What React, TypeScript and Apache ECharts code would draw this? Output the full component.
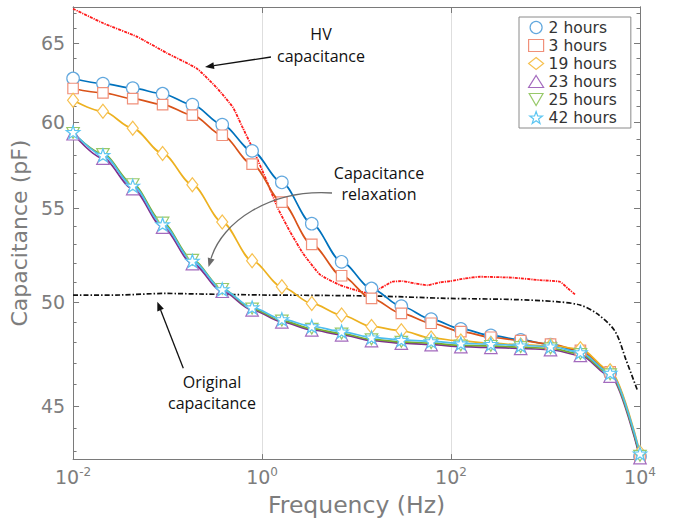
import React, { useEffect, useRef } from 'react';
import * as echarts from 'echarts';

// ---------- data ----------
const freqHz = [0.01, 0.0207, 0.0428, 0.0886, 0.183, 0.379, 0.785, 1.62, 3.36, 6.95, 14.4, 29.8, 61.6, 127, 264, 546, 1130, 2340, 4830, 10000];

const cap2h = [62.71, 62.39, 62.10, 61.75, 61.07, 59.85, 58.28, 56.45, 54.14, 52.09, 50.70, 49.80, 49.15, 48.67, 48.35, 48.13, 47.90, 47.58, 46.55, 42.77];
const cap3h = [62.08, 61.81, 61.45, 61.08, 60.43, 59.21, 57.50, 55.33, 53.02, 51.36, 50.20, 49.44, 48.95, 48.54, 48.26, 48.10, 47.93, 47.62, 46.60, 42.80];
const cap19h = [61.35, 60.67, 59.63, 58.13, 56.32, 54.23, 52.15, 50.79, 49.94, 49.36, 48.79, 48.58, 48.22, 48.08, 47.97, 47.89, 47.85, 47.70, 46.65, 42.94];
const cap23h = [59.30, 57.85, 56.10, 53.95, 52.00, 50.56, 49.62, 49.02, 48.62, 48.38, 48.10, 47.97, 47.90, 47.80, 47.77, 47.72, 47.66, 47.38, 46.40, 42.72];
const cap25h = [59.35, 58.10, 56.35, 54.20, 52.20, 50.68, 49.68, 49.08, 48.68, 48.44, 48.16, 48.04, 47.97, 47.86, 47.84, 47.78, 47.72, 47.45, 46.48, 42.80];
const cap42h = [59.40, 58.03, 56.26, 54.10, 52.14, 50.66, 49.74, 49.15, 48.80, 48.54, 48.25, 48.13, 48.06, 47.96, 47.93, 47.86, 47.81, 47.53, 46.55, 42.90];

const hvFreqHz = [0.01, 0.0209, 0.0472, 0.0982, 0.205, 0.332, 0.493, 0.614, 0.803, 1.10, 1.48, 1.98, 2.72, 4.11, 6.68, 10.9, 13.9, 17.7, 23.8, 31.0, 41.6, 55.7, 76.6, 97.5, 141, 203, 453, 875, 1420, 1730, 2050];
const hvCap = [67.3, 66.32, 65.43, 64.35, 63.34, 62.12, 60.90, 59.75, 58.38, 56.64, 54.96, 53.70, 52.53, 51.42, 50.88, 50.55, 50.45, 50.70, 51.05, 51.08, 50.96, 50.87, 51.02, 51.08, 51.22, 51.31, 51.26, 51.13, 51.05, 50.70, 50.40];

const origFreqHz = [0.01, 0.0314, 0.0942, 0.221, 1, 4.11, 17.7, 89.9, 453, 1310, 2320, 3480, 5430, 7110, 9420];
const origCap = [50.36, 50.37, 50.45, 50.42, 50.37, 50.35, 50.31, 50.20, 50.14, 50.03, 49.86, 49.44, 48.56, 47.17, 45.72];

const seriesNames = ['2 hours', '3 hours', '19 hours', '23 hours', '25 hours', '42 hours'];
const yMajorTicks = [45, 50, 55, 60, 65];
const yMinorTicks = [43, 44, 45, 46, 47, 48, 49, 50, 51, 52, 53, 54, 55, 56, 57, 58, 59, 60, 61, 62, 63, 64, 65, 66, 67];
const yRangePf = [42.66, 67.42];
const xRangeExp = [-2, 4];

// ---------- styles ----------
const FONT = 'DejaVu Sans';
const ANNOT_FONT = 'Open Sans';
const AX = '#7a7a7a';
const LBL = '#7d7d7d';
const lineColors = ['#0072BD', '#D95319', '#EDB120', '#7E2F8E', '#77AC30', '#4DBEEE'];
const edgeColors = ['#62A8DE', '#F0907A', '#F7C150', '#A46BBE', '#98C96A', '#5CC6F2'];
const STAR = 'path://M50,0 L61.76,33.82 L97.55,34.55 L69.02,56.18 L79.39,90.45 L50,70 L20.61,90.45 L30.98,56.18 L2.45,34.55 L38.24,33.82 Z';
const TRI_DOWN = 'path://M0,0 L100,0 L50,86.6 Z';
const symbols = ['circle', 'rect', 'diamond', 'triangle', TRI_DOWN, STAR];
const symbolSizes: any[] = [12.5, 10.5, [11, 14], 12.5, 12.5, 13.5];

const lg = (v: number) => Math.log10(v);

export default function App() {
  const ref = useRef<HTMLDivElement>(null);
  useEffect(() => {
    if (!ref.current) return;
    const chart = echarts.init(ref.current, undefined, { renderer: 'svg' });
    const capSets = [cap2h, cap3h, cap19h, cap23h, cap25h, cap42h];

    const dataSeries = capSets.map((vals, k) => ({
      name: seriesNames[k],
      type: 'line',
      xAxisIndex: 0,
      yAxisIndex: 0,
      data: freqHz.map((f, i) => [lg(f), lg(vals[i])]),
      symbol: symbols[k],
      symbolSize: symbolSizes[k],
      symbolKeepAspect: true,
      showSymbol: true,
      smooth: 0.3,
      smoothMonotone: 'x',
      lineStyle: { color: lineColors[k], width: 1.7 },
      itemStyle: { color: '#fff', borderColor: edgeColors[k], borderWidth: 1.2 },
      emphasis: { disabled: true },
      z: 3,
    }));

    const yBase = {
      type: 'value',
      min: lg(yRangePf[0]),
      max: lg(yRangePf[1]),
      splitLine: { show: false },
      axisLine: { show: true, onZero: false, lineStyle: { color: AX, width: 1 } },
    };
    const majorVals = yMajorTicks.map(lg);
    const minorVals = yMinorTicks.map(lg);

    const option: any = {
      animation: false,
      backgroundColor: '#fff',
      grid: { left: 73, top: 7, width: 567, height: 455, containLabel: false },
      legend: {
        orient: 'vertical',
        left: 519,
        top: 17,
        padding: [1.5, 14, 1.5, 9],
        itemGap: 0,
        itemWidth: 15,
        itemHeight: 12,
        borderColor: '#8a8a8a',
        borderWidth: 1,
        borderRadius: 0,
        backgroundColor: '#fff',
        selectedMode: false,
        textStyle: { fontFamily: FONT, fontSize: 15.5, color: '#333', lineHeight: 18 },
        data: seriesNames.map((n, i) => ({
          name: n,
          icon: symbols[i],
          itemStyle: { color: '#fff', borderColor: edgeColors[i], borderWidth: 1.2 },
        })),
      },
      xAxis: [
        {
          type: 'value',
          position: 'bottom',
          min: xRangeExp[0],
          max: xRangeExp[1],
          interval: 2,
          axisLine: { show: true, onZero: false, lineStyle: { color: AX } },
          axisTick: { show: true, inside: true, length: 5, lineStyle: { color: AX } },
          splitLine: { show: true, lineStyle: { color: '#dedede', width: 1 } },
          axisLabel: {
            margin: 7,
            formatter: (v: number) => `{b|10}{s|${v}}`,
            rich: {
              b: { fontFamily: FONT, fontSize: 19, color: LBL, lineHeight: 22 },
              s: { fontFamily: FONT, fontSize: 12, color: LBL, lineHeight: 12, padding: [0, 0, 10, 0] },
            },
          },
          name: 'Frequency (Hz)',
          nameLocation: 'middle',
          nameGap: 31,
          nameTextStyle: { fontFamily: FONT, fontSize: 23.5, color: LBL },
        },
        {
          type: 'value',
          position: 'top',
          min: xRangeExp[0],
          max: xRangeExp[1],
          interval: 2,
          axisLine: { show: true, onZero: false, lineStyle: { color: AX } },
          axisTick: { show: true, inside: true, length: 6, lineStyle: { color: AX } },
          axisLabel: { show: false },
          splitLine: { show: false },
        },
      ],
      yAxis: [
        {
          ...yBase,
          position: 'left',
          axisTick: { show: true, inside: true, length: 6, customValues: majorVals, lineStyle: { color: AX } },
          axisLabel: {
            customValues: majorVals,
            margin: 8,
            formatter: (v: number) => String(Math.round(Math.pow(10, v))),
            fontFamily: FONT,
            fontSize: 19,
            color: LBL,
          },
          name: 'Capacitance (pF)',
          nameLocation: 'middle',
          nameGap: 33,
          nameTextStyle: { fontFamily: FONT, fontSize: 22, color: LBL },
        },
        {
          ...yBase,
          position: 'left',
          axisTick: { show: true, inside: true, length: 3.5, customValues: minorVals, lineStyle: { color: AX } },
          axisLabel: { show: false },
        },
        {
          ...yBase,
          position: 'right',
          axisTick: { show: true, inside: true, length: 6, customValues: majorVals, lineStyle: { color: AX } },
          axisLabel: { show: false },
        },
        {
          ...yBase,
          position: 'right',
          axisTick: { show: true, inside: true, length: 3.5, customValues: minorVals, lineStyle: { color: AX } },
          axisLabel: { show: false },
        },
      ],
      series: [
        {
          name: 'HV capacitance',
          type: 'line',
          xAxisIndex: 0,
          yAxisIndex: 0,
          data: hvFreqHz.map((f, i) => [lg(f), lg(hvCap[i])]),
          symbol: 'none',
          showSymbol: false,
          smooth: 0.15,
          lineStyle: { color: '#ff1a1a', width: 1.8, type: [3, 1, 1.2, 1] },
          emphasis: { disabled: true },
          z: 2,
        },
        {
          name: 'Original capacitance',
          type: 'line',
          xAxisIndex: 0,
          yAxisIndex: 0,
          data: origFreqHz.map((f, i) => [lg(f), lg(origCap[i])]),
          symbol: 'none',
          showSymbol: false,
          smooth: 0.3,
          lineStyle: { color: '#111', width: 1.7, type: [5, 2, 1.5, 2] },
          emphasis: { disabled: true },
          z: 2,
        },
        ...dataSeries,
      ],
      graphic: [
        {
          type: 'text', x: 321, y: 45, z: 10,
          style: { text: 'HV\ncapacitance', fontFamily: ANNOT_FONT, fontSize: 16, lineHeight: 21.7, fill: '#111', align: 'center', verticalAlign: 'middle' },
        },
        {
          type: 'text', x: 379, y: 183.7, z: 10,
          style: { text: 'Capacitance\nrelaxation', fontFamily: ANNOT_FONT, fontSize: 16, lineHeight: 20.7, fill: '#111', align: 'center', verticalAlign: 'middle' },
        },
        {
          type: 'text', x: 212, y: 392.2, z: 10,
          style: { text: 'Original\ncapacitance', fontFamily: ANNOT_FONT, fontSize: 16, lineHeight: 21, fill: '#111', align: 'center', verticalAlign: 'middle' },
        },
        { type: 'line', z: 10, shape: { x1: 271, y1: 57, x2: 213.9, y2: 65.65 }, style: { stroke: '#111', lineWidth: 1.3 } },
        { type: 'polygon', z: 10, shape: { points: [[205, 67], [214.4, 69.1], [213.4, 62.2]] }, style: { fill: '#111' } },
        { type: 'line', z: 10, shape: { x1: 183.3, y1: 368.3, x2: 160.6, y2: 310.1 }, style: { stroke: '#111', lineWidth: 1.3 } },
        { type: 'polygon', z: 10, shape: { points: [[157.3, 301.7], [163.8, 308.8], [157.3, 311.4]] }, style: { fill: '#111' } },
        {
          type: 'bezierCurve', z: 10,
          shape: { x1: 332, y1: 193, cpx1: 270, cpy1: 189, cpx2: 222, cpy2: 222, x2: 211.1, y2: 258.4 },
          style: { stroke: '#6b6b6b', lineWidth: 1.3, fill: null },
        },
        { type: 'polygon', z: 10, shape: { points: [[208.5, 267], [214.5, 259.4], [207.8, 257.4]] }, style: { fill: '#6b6b6b' } },
      ],
    };

    chart.setOption(option);
    return () => chart.dispose();
  }, []);

  return (
    <div
      ref={ref}
      style={{ position: 'fixed', left: 0, top: 0, width: 676, height: 522, background: '#fff' }}
    />
  );
}
